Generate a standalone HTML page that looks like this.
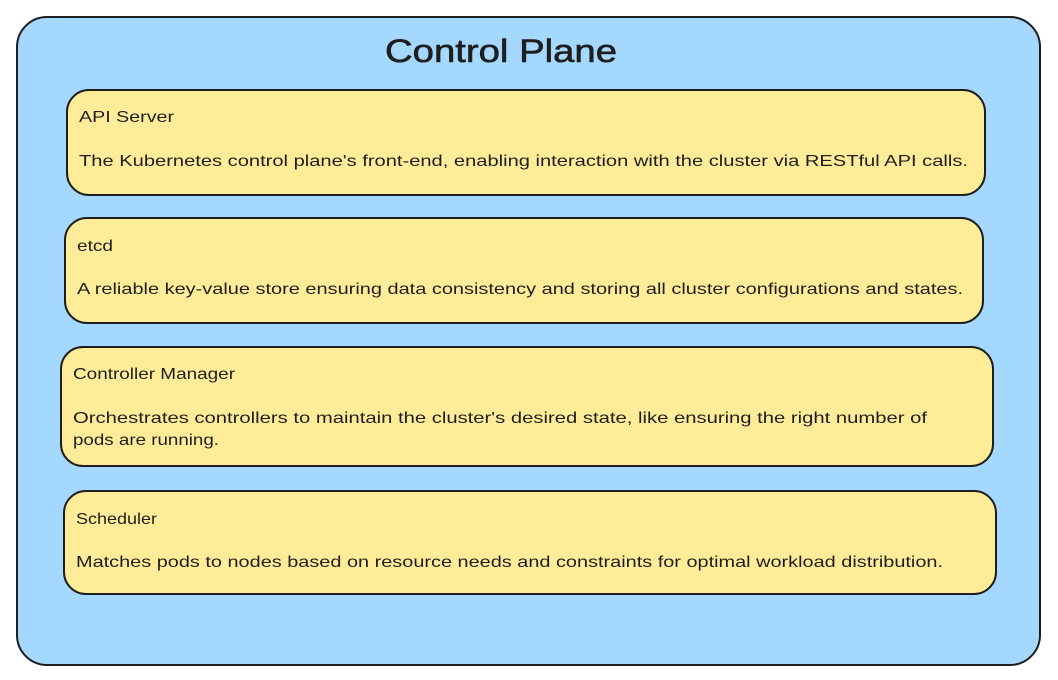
<!DOCTYPE html>
<html><head><meta charset="utf-8"><style>
html,body{margin:0;padding:0;background:#fff;}
svg{display:block;}
text{font-family:"Liberation Sans",sans-serif;fill:#1e1e1e;font-size:16px;}
</style></head><body>
<svg width="1058" height="680" viewBox="0 0 1058 680" xmlns="http://www.w3.org/2000/svg">
<rect x="17" y="17" width="1023" height="648" rx="30" fill="#a5d8ff" stroke="#1e1e1e" stroke-width="2"/>
<text x="385" y="62" style="font-size:32px" stroke="#1e1e1e" stroke-width="0.6" textLength="232" lengthAdjust="spacingAndGlyphs">Control Plane</text>

<rect x="67" y="90" width="918" height="105" rx="22" fill="#ffec99" stroke="#1e1e1e" stroke-width="2"/>
<text x="79" y="122" textLength="95" lengthAdjust="spacingAndGlyphs">API Server</text>
<text x="79" y="166" textLength="889" lengthAdjust="spacingAndGlyphs">The Kubernetes control plane's front-end, enabling interaction with the cluster via RESTful API calls.</text>

<rect x="65" y="218" width="918" height="105" rx="22" fill="#ffec99" stroke="#1e1e1e" stroke-width="2"/>
<text x="77" y="251" textLength="36" lengthAdjust="spacingAndGlyphs">etcd</text>
<text x="77" y="294" textLength="886" lengthAdjust="spacingAndGlyphs">A reliable key-value store ensuring data consistency and storing all cluster configurations and states.</text>

<rect x="61" y="347" width="932" height="119" rx="22" fill="#ffec99" stroke="#1e1e1e" stroke-width="2"/>
<text x="73" y="379" textLength="162" lengthAdjust="spacingAndGlyphs">Controller Manager</text>
<text x="73" y="423" textLength="854" lengthAdjust="spacingAndGlyphs">Orchestrates controllers to maintain the cluster's desired state, like ensuring the right number of</text>
<text x="73" y="445" textLength="146" lengthAdjust="spacingAndGlyphs">pods are running.</text>

<rect x="64" y="491" width="932" height="103" rx="22" fill="#ffec99" stroke="#1e1e1e" stroke-width="2"/>
<text x="76" y="524" textLength="81" lengthAdjust="spacingAndGlyphs">Scheduler</text>
<text x="76" y="567" textLength="867" lengthAdjust="spacingAndGlyphs">Matches pods to nodes based on resource needs and constraints for optimal workload distribution.</text>
</svg>
</body></html>
